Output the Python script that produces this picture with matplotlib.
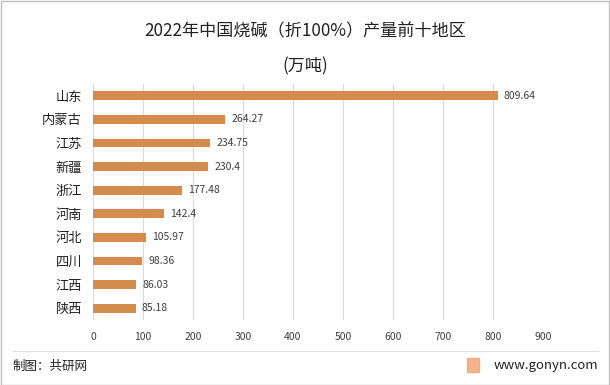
import matplotlib
matplotlib.use("Agg")
import matplotlib.pyplot as plt
from matplotlib.patches import Rectangle
from matplotlib.lines import Line2D

plt.rcParams['font.family'] = ['Noto Sans CJK SC', 'DejaVu Sans']

regions = ["山东", "内蒙古", "江苏", "新疆", "浙江", "河南", "河北", "四川", "江西", "陕西"]
values = [809.64, 264.27, 234.75, 230.4, 177.48, 142.4, 105.97, 98.36, 86.03, 85.18]
value_labels = ["809.64", "264.27", "234.75", "230.4", "177.48", "142.4", "105.97", "98.36", "86.03", "85.18"]
xticks = [0, 100, 200, 300, 400, 500, 600, 700, 800, 900]

W, H = 610, 385
fig = plt.figure(figsize=(W / 100, H / 100), dpi=100)
ax = fig.add_axes([93 / W, 1 - 320 / H, (543 - 93) / W, (320 - 84) / H])

ypos = list(range(len(regions)))
ax.barh(ypos, values, height=0.38, color="#D48B4E", zorder=3)
for y, v, lab in zip(ypos, values, value_labels):
    ax.text(v + 12, y, lab, va="center", ha="left", fontsize=7.5, color="#404040")

ax.set_yticks(ypos)
ax.set_yticklabels(regions, fontsize=9.5, color="#222222")
ax.set_ylim(len(regions) - 0.5, -0.5)
ax.set_xlim(0, 900)
ax.set_xticks(xticks)
ax.set_xticklabels([str(t) for t in xticks], fontsize=7.5, color="#404040")
ax.tick_params(axis="both", length=0)
ax.tick_params(axis="x", pad=9)
ax.tick_params(axis="y", pad=8)
ax.grid(axis="x", color="#D9D9D9", linewidth=0.8, zorder=0)
for s in ax.spines.values():
    s.set_visible(False)

fig.text(0.5, 1 - 31 / H, "2022年中国烧碱（折100%）产量前十地区", ha="center", va="center",
         fontsize=12.3, color="#222222")
fig.text(0.5, 1 - 66 / H, "(万吨)", ha="center", va="center", fontsize=12.3, color="#222222")

# footer
fig.add_artist(Line2D([13 / W, 598 / W], [1 - 351 / H, 1 - 351 / H], color="#E0E0E0", linewidth=0.8))
fig.text(13 / W, 1 - 366 / H, "制图：共研网", ha="left", va="center", fontsize=9, color="#222222")
fig.text(598 / W, 1 - 365 / H, "www.gonyn.com", ha="right", va="center", fontsize=9.5, color="#222222")
fig.add_artist(Rectangle((467 / W, 1 - 372 / H), 12 / W, 14 / H, color="#F0A070", alpha=0.8))

# border
fig.add_artist(Rectangle((0.5 / W, 0.5 / H), (W - 1.5) / W, (H - 1.5) / H, fill=False,
                         edgecolor="#BFBFBF", linewidth=1))

fig.savefig("out.png", dpi=100)
